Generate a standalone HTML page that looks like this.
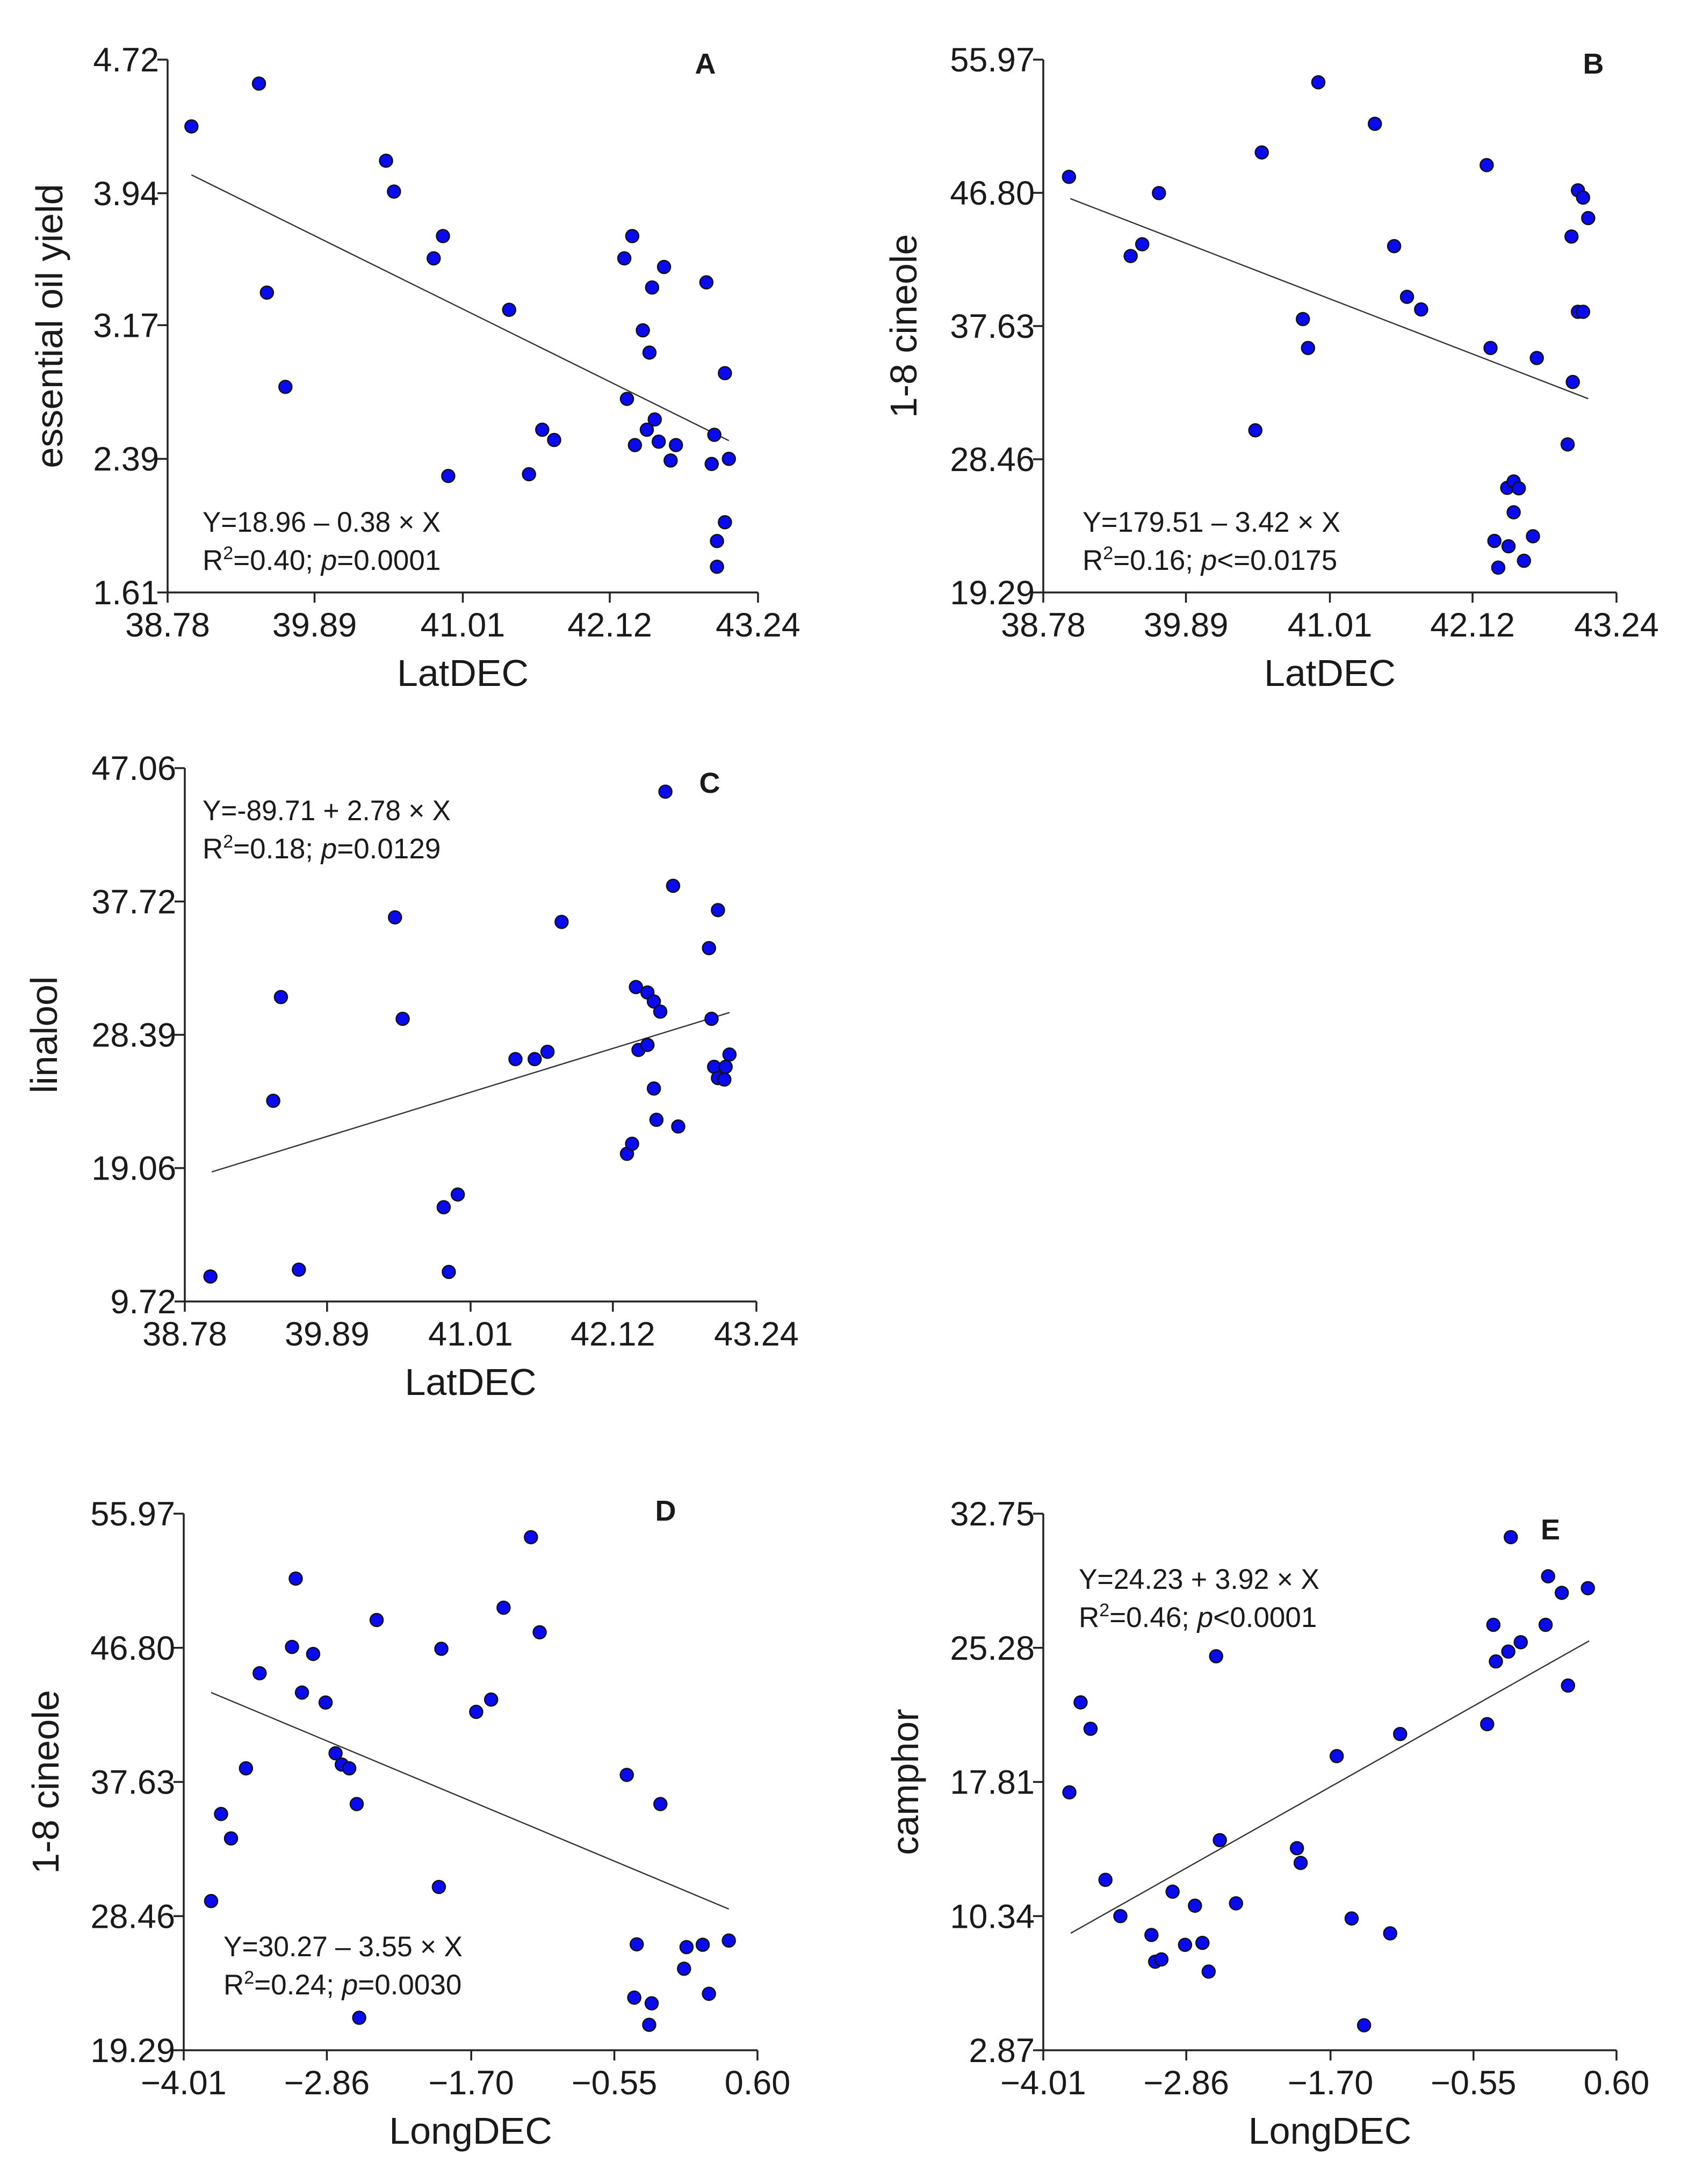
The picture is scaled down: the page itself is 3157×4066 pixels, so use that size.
<!DOCTYPE html>
<html><head><meta charset="utf-8"><style>
html,body{margin:0;padding:0;background:#fff;}
svg{display:block;}
text{font-family:"Liberation Sans",sans-serif;fill:#1a1a1a;}
</style></head>
<body>
<svg id="fig" width="3157" height="4066" viewBox="0 0 3157 4066" xmlns="http://www.w3.org/2000/svg"></svg>
<script>
// ---- Panel A data ----
const aX = [38.96,39.47,39.53,39.67,40.43,40.49,40.79,40.86,40.90,41.36,41.51,41.61,41.70,42.23,42.29,42.25,42.31,42.37,42.42,42.44,42.53,42.40,42.46,42.49,42.58,42.62,42.85,42.91,42.89,42.99,43.02,42.99,42.93,42.93];
const aY = [4.33,4.58,3.36,2.81,4.13,3.95,3.56,3.69,2.29,3.26,2.30,2.56,2.50,3.56,3.69,2.74,2.47,3.14,3.01,3.39,3.51,2.56,2.62,2.49,2.38,2.47,3.42,2.53,2.36,2.89,2.39,2.02,1.91,1.76];
const aXTicks = ["38.78","39.89","41.01","42.12","43.24"];
const aYTicks = ["1.61","2.39","3.17","3.94","4.72"];
const aFit = [18.93,-0.382,38.96,43.02];
// ---- Panel B data ----
const bX = [38.98,39.46,39.55,39.68,40.43,40.48,40.80,40.84,40.92,41.36,41.51,41.61,41.72,42.23,42.26,42.29,42.32,42.39,42.44,42.48,42.44,42.40,42.52,42.59,42.62,42.86,42.89,42.90,42.94,42.98,42.94,42.98,43.02];
const bY = [47.90,42.45,43.26,46.78,30.45,49.58,38.11,36.12,54.41,51.55,43.13,39.64,38.77,48.71,36.12,22.84,21.00,26.49,26.93,26.46,24.81,22.47,21.47,23.16,35.43,29.48,43.79,33.78,46.97,46.47,38.61,38.61,45.06];
const bXTicks = ["38.78","39.89","41.01","42.12","43.24"];
const bYTicks = ["19.29","28.46","37.63","46.80","55.97"];
const bFit = [179.63,-3.417,38.99,43.02];
// ---- Panel C data ----
const cX = [38.98,39.47,39.53,39.67,40.42,40.48,40.80,40.91,40.84,41.36,41.51,41.61,41.72,42.23,42.27,42.30,42.32,42.39,42.39,42.44,42.49,42.44,42.46,42.53,42.59,42.63,42.87,42.89,42.94,42.91,42.94,42.99,43.00,43.03];
const cY = [11.47,23.77,31.03,11.95,36.61,29.51,16.32,17.21,11.79,26.69,26.69,27.20,36.29,20.06,20.76,31.73,27.33,27.68,31.35,30.72,30.01,24.63,22.44,45.41,38.82,21.97,34.46,29.51,37.12,26.15,25.36,25.26,26.15,27.01];
const cXTicks = ["38.78","39.89","41.01","42.12","43.24"];
const cYTicks = ["9.72","19.06","28.39","37.72","47.06"];
const cFit = [-88.90,2.762,38.99,43.03];
// ---- Panel D data ----
const dX = [-3.79,-3.71,-3.63,-3.51,-3.40,-3.14,-3.11,-3.06,-2.97,-2.87,-2.79,-2.74,-2.68,-2.62,-2.60,-2.46,-1.96,-1.94,-1.66,-1.54,-1.44,-1.22,-1.15,-0.45,-0.37,-0.39,-0.25,-0.27,-0.18,0.01,0.03,0.16,0.21,0.37];
const dY = [29.49,35.44,33.77,38.56,45.06,46.86,51.53,43.74,46.38,43.06,39.59,38.82,38.56,36.12,21.51,48.70,30.45,46.73,42.42,43.26,49.54,54.36,47.86,38.11,26.53,22.89,22.50,21.03,36.12,24.86,26.34,26.50,23.15,26.79];
const dXTicks = ["\u22124.01","\u22122.86","\u22121.70","\u22120.55","0.60"];
const dYTicks = ["19.29","28.46","37.63","46.80","55.97"];
const dFit = [30.26,-3.558,-3.79,0.37];
// ---- Panel E data ----
const eX = [-3.80,-3.71,-3.63,-3.51,-3.39,-3.14,-3.11,-3.06,-2.97,-2.87,-2.79,-2.73,-2.68,-2.62,-2.59,-2.46,-1.97,-1.94,-1.65,-1.53,-1.43,-1.22,-1.14,-0.44,-0.39,-0.37,-0.27,-0.25,-0.17,0.03,0.05,0.16,0.21,0.37];
const eY = [17.23,22.24,20.77,12.36,10.34,9.29,7.80,7.93,11.70,8.74,10.92,8.85,7.25,24.81,14.57,11.05,14.12,13.30,19.25,10.21,4.26,9.38,20.48,21.03,26.56,24.52,25.07,31.44,25.59,26.56,29.26,28.34,23.18,28.60];
const eXTicks = ["\u22124.01","\u22122.86","\u22121.70","\u22120.55","0.60"];
const eYTicks = ["2.87","10.34","17.81","25.28","32.75"];
const eFit = [24.18,3.904,-3.79,0.38];

const NS = "http://www.w3.org/2000/svg";
const svg = document.getElementById('fig');
function mk(tag, attrs, parent, txt){
  const e = document.createElementNS(NS, tag);
  for (const k in attrs) e.setAttribute(k, attrs[k]);
  if (txt !== undefined) e.textContent = txt;
  (parent||svg).appendChild(e);
  return e;
}
function num(s){ return parseFloat(s.replace('\u2212','-')); }

function panel(cfg){
  const g = mk('g', {});
  
  
  const xmin = num(cfg.xt[0]), xmax = num(cfg.xt[cfg.xt.length-1]);
  const ymin = num(cfg.yt[0]), ymax = num(cfg.yt[cfg.yt.length-1]);
  const sx = v => cfg.x0 + (v - xmin) / (xmax - xmin) * (cfg.x1 - cfg.x0);
  const sy = v => cfg.y1 - (v - ymin) / (ymax - ymin) * (cfg.y1 - cfg.y0);
  const ax = mk('path', {d:`M${cfg.x0},${cfg.y0}V${cfg.y1}H${cfg.x1}`, fill:'none', stroke:'#222', 'stroke-width':3.5}, g);
  
  
  cfg.yt.forEach(t => {
    const y = sy(num(t));
    mk('line', {x1:cfg.x0-19, x2:cfg.x0, y1:y, y2:y, stroke:'#222','stroke-width':3.5}, g);
    const tl = mk('text', {x:cfg.x0-16, y:y+22, 'font-size':63, 'text-anchor':'end'}, g, t);
    
    
  });
  cfg.xt.forEach(t => {
    const x = sx(num(t));
    mk('line', {x1:x, x2:x, y1:cfg.y1, y2:cfg.y1+19, stroke:'#222','stroke-width':3.5}, g);
    const tl = mk('text', {x:x, y:cfg.y1+82, 'font-size':63, 'text-anchor':'middle'}, g, t);
    
    
  });
  const xt = mk('text', {x:(cfg.x0+cfg.x1)/2, y:cfg.y1+174, 'font-size':70, 'text-anchor':'middle'}, g, cfg.xlabel);
  
  
  const ymid = (cfg.y0+cfg.y1)/2;
  const yt = mk('text', {x:cfg.ytx, y:ymid, 'font-size':70, 'text-anchor':'middle', transform:`rotate(-90 ${cfg.ytx} ${ymid})`}, g, cfg.ylabel);
  
  
  const f = cfg.fit;
  const fl = mk('line', {x1:sx(f[2]), y1:sy(f[0]+f[1]*f[2]), x2:sx(f[3]), y2:sy(f[0]+f[1]*f[3]), stroke:'#333','stroke-width':2.4}, g);
  
  
  cfg.xs.forEach((v,i) => {
    const c = mk('circle', {cx:sx(v), cy:sy(cfg.ys[i]), r:12, fill:'#0a0af0', stroke:'#111', 'stroke-width':2.5}, g);
    
    
  });
  const e1 = mk('text', {x:cfg.ex, y:cfg.ey, 'font-size':53, 'textLength':cfg.ew, 'lengthAdjust':'spacingAndGlyphs'}, g, cfg.eq);
  
  
  const e2 = mk('text', {x:cfg.ex, y:cfg.ey+71, 'font-size':53}, g);
  
  
  mk('tspan', {}, e2, 'R');
  mk('tspan', {'font-size':34, dy:-20}, e2, '2');
  mk('tspan', {dy:20}, e2, '=' + cfg.r2 + '; ');
  mk('tspan', {'font-style':'italic'}, e2, 'p');
  mk('tspan', {}, e2, cfg.p);
  const lt = mk('text', {x:cfg.lx, y:cfg.ly, 'font-size':54, 'font-weight':'bold', 'text-anchor':'middle'}, g, cfg.letter);
  
  
}

panel({letter:'A', x0:312, x1:1411, y0:111, y1:1103, xt:aXTicks, yt:aYTicks, xs:aX, ys:aY, fit:aFit,
  xlabel:'LatDEC', ylabel:'essential oil yield', ytx:116, ex:377, ey:990, ew:443,
  eq:'Y=18.96 \u2013 0.38 \u00d7 X', r2:'0.40', p:'=0.0001', lx:1313, ly:137});
panel({letter:'B', x0:1942, x1:3009, y0:111, y1:1103, xt:bXTicks, yt:bYTicks, xs:bX, ys:bY, fit:bFit,
  xlabel:'LatDEC', ylabel:'1-8 cineole', ytx:1706, ex:2015, ey:990, ew:480,
  eq:'Y=179.51 \u2013 3.42 \u00d7 X', r2:'0.16', p:'<=0.0175', lx:2966, ly:137});
panel({letter:'C', x0:344, x1:1408, y0:1430, y1:2423, xt:cXTicks, yt:cYTicks, xs:cX, ys:cY, fit:cFit,
  xlabel:'LatDEC', ylabel:'linalool', ytx:106, ex:377, ey:1527, ew:462,
  eq:'Y=-89.71 + 2.78 \u00d7 X', r2:'0.18', p:'=0.0129', lx:1321, ly:1476});
panel({letter:'D', x0:342, x1:1410, y0:2818, y1:3817, xt:dXTicks, yt:dYTicks, xs:dX, ys:dY, fit:dFit,
  xlabel:'LongDEC', ylabel:'1-8 cineole', ytx:109, ex:416, ey:3642, ew:445,
  eq:'Y=30.27 \u2013 3.55 \u00d7 X', r2:'0.24', p:'=0.0030', lx:1239, ly:2831});
panel({letter:'E', x0:1942, x1:3009, y0:2818, y1:3817, xt:eXTicks, yt:eYTicks, xs:eX, ys:eY, fit:eFit,
  xlabel:'LongDEC', ylabel:'camphor', ytx:1709, ex:2008, ey:2958, ew:448,
  eq:'Y=24.23 + 3.92 \u00d7 X', r2:'0.46', p:'<0.0001', lx:2886, ly:2866});
</script>
</body></html>
